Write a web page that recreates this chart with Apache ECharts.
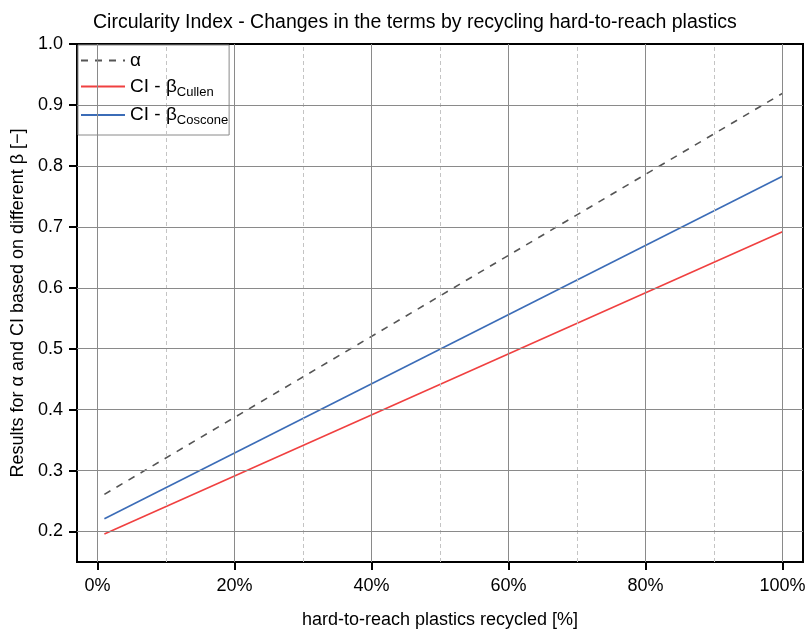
<!DOCTYPE html>
<html>
<head>
<meta charset="utf-8">
<script src="https://cdn.jsdelivr.net/npm/echarts@6/dist/echarts.min.js"></script>
<style>
  html, body { margin: 0; padding: 0; background: #fff; }
  #chart { width: 809px; height: 629px; }
</style>
</head>
<body>
<div id="chart"></div>
<script>
// 数据
var recycled = [1, 100];               // hard-to-reach plastics recycled [%]
var alphaVals = [0.261, 0.919];        // α
var ciCullen = [0.196, 0.692];         // CI - β Cullen
var ciCoscone = [0.221, 0.783];        // CI - β Coscone

// 刻度与网格线位置
var xMajor = [0, 20, 40, 60, 80, 100];
var xMinor = [10, 30, 50, 70, 90];
var yTicks = [0.2, 0.3, 0.4, 0.5, 0.6, 0.7, 0.8, 0.9, 1.0];

var FONT = 'Arial, "Liberation Sans", sans-serif';

function pairs(xs, ys) {
    var out = [];
    for (var i = 0; i < xs.length; i++) out.push([xs[i], ys[i]]);
    return out;
}

// 网格线用 markLine 画
var gridLines = [];
xMajor.forEach(function (v) {
    gridLines.push({ xAxis: v, lineStyle: { color: '#8a8a8a', width: 1, type: 'solid' } });
});
xMinor.forEach(function (v) {
    gridLines.push({ xAxis: v, lineStyle: { color: '#c4c4c4', width: 1, type: [4, 3] } });
});
yTicks.forEach(function (v) {
    if (v < 1) gridLines.push({ yAxis: v, lineStyle: { color: '#8a8a8a', width: 1, type: 'solid' } });
});

var chart = echarts.init(document.getElementById('chart'));

var option = {
    animation: false,
    backgroundColor: '#fff',
    textStyle: { fontFamily: FONT },
    title: {
        text: 'Circularity Index - Changes in the terms by recycling hard-to-reach plastics',
        left: 88,
        top: 8,
        textStyle: { fontSize: 19.5, fontWeight: 'normal', color: '#000', fontFamily: FONT }
    },
    grid: {
        left: 77, top: 44, right: 6, bottom: 67,
        outerBoundsMode: 'none',
        containLabel: false,
        show: true, borderColor: '#000', borderWidth: 2, backgroundColor: 'transparent'
    },
    legend: {
        orient: 'vertical',
        left: 78, top: 45,
        padding: [6, 1, 8, 2],
        itemGap: 7,
        itemWidth: 44, itemHeight: 22,
        backgroundColor: '#fff',
        borderColor: '#8a8a8a', borderWidth: 1, borderRadius: 0,
        itemStyle: { opacity: 0 },
        data: ['α', 'CI - βCullen', 'CI - βCoscone'],
        formatter: function (name) {
            if (name === 'α') return '{b|α}';
            if (name === 'CI - βCullen') return '{b|CI - β}{s|Cullen}';
            return '{b|CI - β}{s|Coscone}';
        },
        textStyle: {
            fontFamily: FONT,
            color: '#000',
            rich: {
                b: { fontSize: 19, color: '#000', fontFamily: FONT },
                s: { fontSize: 13, color: '#000', fontFamily: FONT, padding: [11, 0, 0, 0] }
            }
        }
    },
    xAxis: {
        type: 'value',
        min: -3, max: 103,
        name: 'hard-to-reach plastics recycled [%]',
        nameLocation: 'middle',
        nameGap: 49,
        nameTextStyle: { fontSize: 18, color: '#000', fontFamily: FONT },
        axisLine: { onZero: false, lineStyle: { color: '#000', width: 2 } },
        axisTick: { show: true, length: 8, lineStyle: { color: '#000', width: 2 }, customValues: xMajor },
        axisLabel: { fontSize: 18, color: '#000', margin: 15, customValues: xMajor,
            formatter: function (v) { return v + '%'; } },
        splitLine: { show: false }
    },
    yAxis: {
        type: 'value',
        min: 0.15, max: 1.0,
        name: 'Results for α and CI based on different β [−]',
        nameLocation: 'middle',
        nameGap: 46,
        nameTextStyle: { fontSize: 18, color: '#000', fontFamily: FONT },
        axisLine: { onZero: false, lineStyle: { color: '#000', width: 2 } },
        axisTick: { show: true, length: 8, lineStyle: { color: '#000', width: 2 }, customValues: yTicks },
        axisLabel: { fontSize: 18, color: '#000', margin: 14, customValues: yTicks,
            formatter: function (v) { return v.toFixed(1); } },
        splitLine: { show: false }
    },
    series: [
        {
            name: 'grid',
            type: 'line',
            data: [],
            silent: true,
            markLine: {
                silent: true,
                symbol: ['none', 'none'],
                label: { show: false },
                animation: false,
                data: gridLines
            }
        },
        {
            name: 'α',
            type: 'line',
            data: pairs(recycled, alphaVals),
            symbol: 'none',
            lineStyle: { color: '#555555', width: 1.6, type: [7, 7] },
            itemStyle: { color: '#555555' },
            z: 3
        },
        {
            name: 'CI - βCullen',
            type: 'line',
            data: pairs(recycled, ciCullen),
            symbol: 'none',
            lineStyle: { color: '#f04040', width: 1.6 },
            itemStyle: { color: '#f04040' },
            z: 3
        },
        {
            name: 'CI - βCoscone',
            type: 'line',
            data: pairs(recycled, ciCoscone),
            symbol: 'none',
            lineStyle: { color: '#3b6cb7', width: 1.6 },
            itemStyle: { color: '#3b6cb7' },
            z: 3
        }
    ]
};

chart.setOption(option);
</script>
</body>
</html>
